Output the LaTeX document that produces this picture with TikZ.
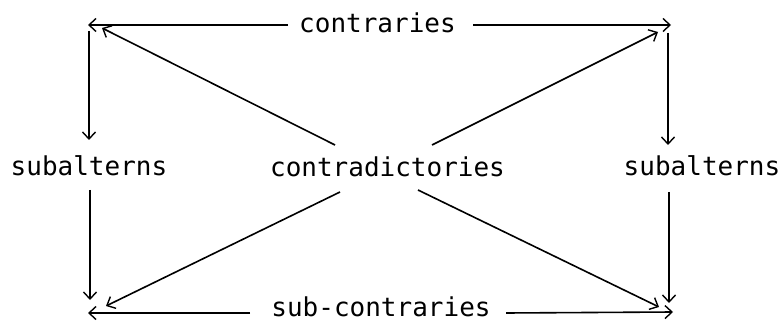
\documentclass[tikz,border=0pt]{standalone}
\usepackage{fontspec}
\setmonofont{DejaVu Sans Mono}
\usetikzlibrary{arrows.meta}
\begin{document}
\begin{tikzpicture}[x=1pt,y=-1pt,
  lbl/.style={font=\ttfamily\fontsize{26}{30}\selectfont, inner sep=0pt, anchor=base},
  conn/.style={line width=1.6pt, -{Straight Barb[length=7pt,width=13pt,line width=1.4pt]}},
  seg/.style={line width=1.6pt}]
\useasboundingbox (0,0) rectangle (784,323);
% text nodes
\node[lbl] (contraries) at (377.5,33) {contraries};
\node[lbl] (subcontraries) at (381,316.5) {sub-contraries};
\node[lbl] (subL) at (89,176) {subalterns};
\node[lbl] (subR) at (702,176) {subalterns};
\node[lbl] (contra) at (387.5,177) {contradictories};
% corner coordinates
\coordinate (TL) at (88,25);
\coordinate (TR) at (671,25);
\coordinate (BL) at (88,313);
\coordinate (BR) at (673,312);
\coordinate (cTw) at (288,25);
\coordinate (cTe) at (473,25);
\coordinate (cBw) at (250,313);
\coordinate (cBe) at (506,313);
% vertical ends
\coordinate (LvA) at (89,31);
\coordinate (LvB) at (89,140);
\coordinate (LvC) at (90,190);
\coordinate (LvD) at (90,300);
\coordinate (RvA) at (668,33);
\coordinate (RvB) at (668,145);
\coordinate (RvC) at (669,192);
\coordinate (RvD) at (669,303);
% diagonal ends
\coordinate (dUL) at (335,145);
\coordinate (dUR) at (432,145);
\coordinate (dLL) at (340,192);
\coordinate (dLR) at (418,190);
\coordinate (tUL) at (102,28);
\coordinate (tUR) at (658,32);
\coordinate (tLL) at (106,306);
\coordinate (tLR) at (659,307);
% horizontals
\draw[conn] (cTw) -- (TL);
\draw[conn] (cTe) -- (TR);
\draw[conn] (cBw) -- (BL);
\draw[conn] (cBe) -- (BR);
% verticals
\draw[conn] (LvA) -- (LvB);
\draw[conn] (LvC) -- (LvD);
\draw[conn] (RvA) -- (RvB);
\draw[conn] (RvC) -- (RvD);
% diagonals
\draw[conn] (dUL) -- (tUL);
\draw[conn] (dUR) -- (tUR);
\draw[conn] (dLL) -- (tLL);
\draw[conn] (dLR) -- (tLR);
\end{tikzpicture}
\end{document}
